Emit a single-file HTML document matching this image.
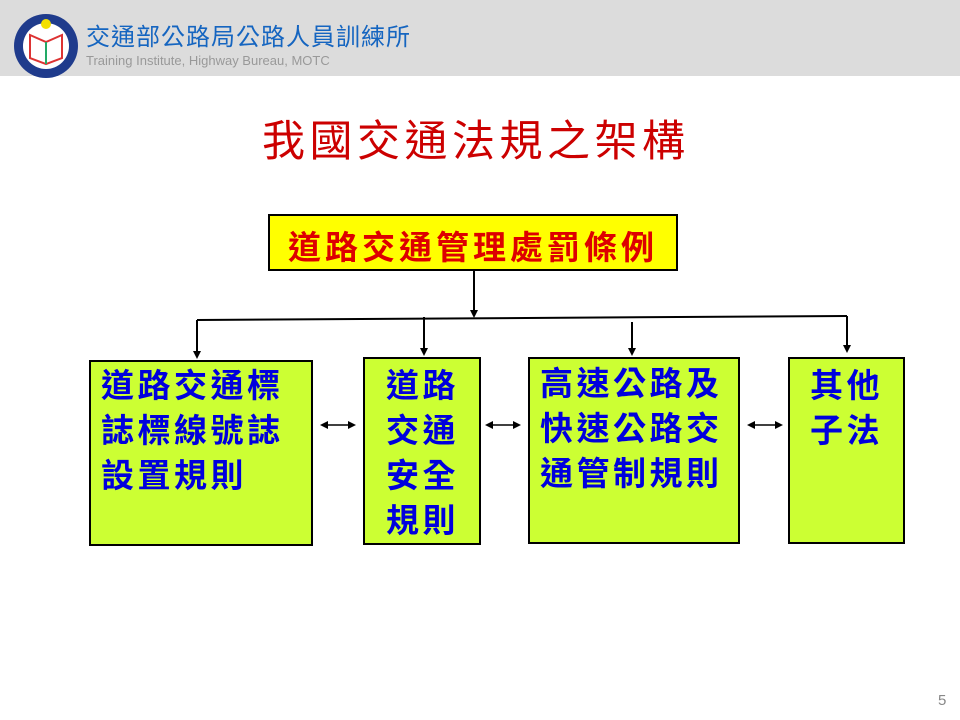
<!DOCTYPE html>
<html><head><meta charset="utf-8"><style>
body{margin:0;width:960px;height:720px;background:#fff;position:relative;overflow:hidden;font-family:"Liberation Sans","Noto Sans CJK TC",sans-serif}
.hdr{position:absolute;left:0;top:0;width:960px;height:76px;background:#dcdcdc}
.box{position:absolute;background:#ccff33;border:2px solid #000;box-sizing:border-box}
.t{position:absolute;color:#0000dd;font-weight:bold;font-size:33px;line-height:45px;white-space:nowrap;letter-spacing:3.5px}
</style></head><body>
<div class="hdr"></div>
<svg style="position:absolute;left:0;top:0" width="960" height="720">
<circle cx="46" cy="46" r="32" fill="#1f3b8c"/>
<circle cx="46" cy="46" r="23" fill="#fff"/>
<circle cx="46" cy="24" r="5" fill="#f3e000"/>
<path d="M30 35 L46 42 L62 35 L62 58 L46 64 L30 58Z" fill="none" stroke="#d33" stroke-width="2"/>
<line x1="46" y1="42" x2="46" y2="64" stroke="#2a6" stroke-width="2"/>
<g stroke="#000" stroke-width="2" fill="none">
<line x1="197" y1="320" x2="847" y2="316"/>
<line x1="474" y1="270" x2="474" y2="312"/>
<line x1="197" y1="320" x2="197" y2="352"/>
<line x1="424" y1="317" x2="424" y2="349"/>
<line x1="632" y1="322" x2="632" y2="349"/>
<line x1="847" y1="316" x2="847" y2="346"/>
<line x1="326" y1="425" x2="350" y2="425" stroke-width="1.5"/>
<line x1="491" y1="425" x2="515" y2="425" stroke-width="1.5"/>
<line x1="753" y1="425" x2="777" y2="425" stroke-width="1.5"/>
</g>
<g fill="#000">
<path d="M470 310 L478 310 L474 318Z"/>
<path d="M193 351 L201 351 L197 359Z"/>
<path d="M420 348 L428 348 L424 356Z"/>
<path d="M628 348 L636 348 L632 356Z"/>
<path d="M843 345 L851 345 L847 353Z"/>
<path d="M320 425 L328 421 L328 429Z"/><path d="M356 425 L348 421 L348 429Z"/>
<path d="M485 425 L493 421 L493 429Z"/><path d="M521 425 L513 421 L513 429Z"/>
<path d="M747 425 L755 421 L755 429Z"/><path d="M783 425 L775 421 L775 429Z"/>
</g>
</svg>
<div style="position:absolute;left:86px;top:17px;font-size:24px;color:#1565c0;letter-spacing:1px">交通部公路局公路人員訓練所</div>
<div style="position:absolute;left:86px;top:53px;font-size:13px;color:#999">Training Institute, Highway Bureau, MOTC</div>
<div style="position:absolute;left:262px;top:107px;font-size:43px;color:#cc0000;letter-spacing:4.5px;white-space:nowrap">我國交通法規之架構</div>
<div class="box" style="left:268px;top:214px;width:410px;height:57px;background:#ffff00"></div>
<div style="position:absolute;left:288px;top:221px;font-size:33px;font-weight:bold;color:#dd0000;letter-spacing:4px;white-space:nowrap">道路交通管理處罰條例</div>
<div class="box" style="left:89px;top:360px;width:224px;height:186px"></div>
<div class="t" style="left:101px;top:363px">道路交通標<br>誌標線號誌<br>設置規則</div>
<div class="box" style="left:363px;top:357px;width:118px;height:188px"></div>
<div class="t" style="left:386px;top:363px">道路<br>交通<br>安全<br>規則</div>
<div class="box" style="left:528px;top:357px;width:212px;height:187px"></div>
<div class="t" style="left:540px;top:361px">高速公路及<br>快速公路交<br>通管制規則</div>
<div class="box" style="left:788px;top:357px;width:117px;height:187px"></div>
<div class="t" style="left:810px;top:363px">其他<br>子法</div>
<div style="position:absolute;left:938px;top:692px;font-size:15px;color:#888">5</div>
</body></html>
